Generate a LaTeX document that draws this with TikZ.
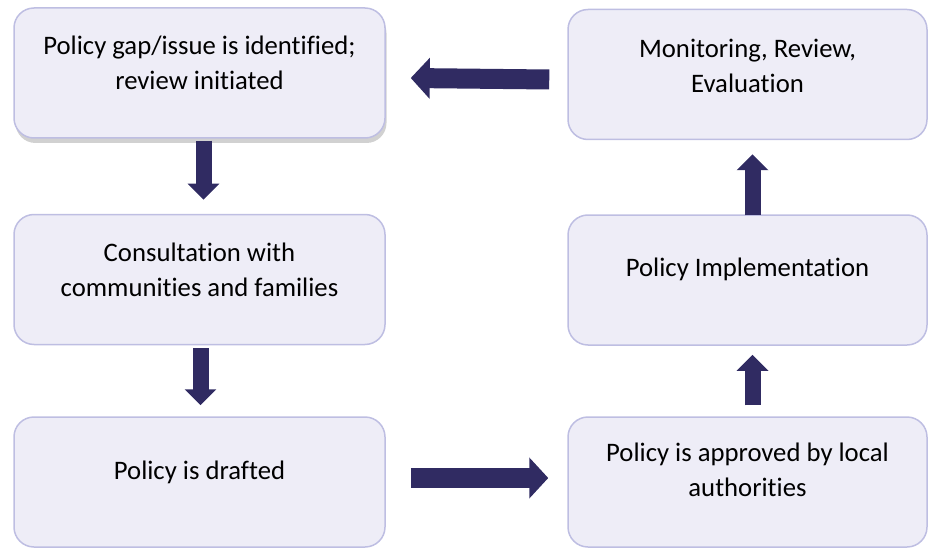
\documentclass[tikz,border=0pt]{standalone}
\usepackage{fontspec}
\setmainfont{Carlito}[Ligatures=NoCommon]
\usepackage{tikz}
\usetikzlibrary{arrows.meta,positioning,shadows}
\definecolor{boxfill}{HTML}{EEEDF7}
\definecolor{boxline}{HTML}{BEBEE2}
\definecolor{arrowblue}{HTML}{302B62}
\tikzset{
  stage/.style={draw=boxline,fill=boxfill,line width=1.5pt,rounded corners=20pt,
    minimum height=130pt,inner sep=0pt},
  leftstage/.style={stage,minimum width=371pt},
  rightstage/.style={stage,minimum width=359pt},
  caption/.style={align=center,inner sep=0pt,font=\fontsize{26.7}{35}\selectfont},
  vfat/.style={draw=arrowblue,line width=16pt,-{Triangle[width=31pt,length=16pt]}},
  hfat/.style={draw=arrowblue,line width=20pt,-{Triangle[width=40pt,length=19pt]}}
}

\begin{document}
\begin{tikzpicture}[x=1pt,y=-1pt]
  \useasboundingbox (0,0) rectangle (928,548);

  % boxes
  \node[leftstage,drop shadow={shadow xshift=1.5pt,shadow yshift=-5pt,fill=black,opacity=0.18}]
    (gap) at (199.5,73) {};
  \node[leftstage]  (consult) at (199.5,279.5) {};
  \node[leftstage]  (draft)   at (199.5,482) {};
  \node[rightstage] (monitor) at (747.5,74.5) {};
  \node[rightstage] (implement) at (747.5,280) {};
  \node[rightstage] (approve) at (747.5,482) {};

  % texts
  \node[caption] (gaptext) at ([yshift=10pt]gap.center)
    {Policy gap/issue is identified;\\review initiated};
  \node[caption] (consulttext) at ([yshift=10pt]consult.center)
    {Consultation with\\communities and families};
  \node[caption] (drafttext) at ([yshift=10pt]draft.center) {Policy is drafted};
  \node[caption] (monitortext) at ([yshift=9pt]monitor.center)
    {Monitoring, Review,\\Evaluation};
  \node[caption] (implementtext) at ([yshift=11pt]implement.center) {Policy Implementation};
  \node[caption] (approvetext) at ([yshift=12pt]approve.center)
    {Policy is approved by local\\authorities};

  % arrows
  \draw[vfat] ([xshift=4pt,yshift=-2pt]gap.south) -- ([xshift=4pt,yshift=14pt]consult.north);
  \draw[vfat] ([xshift=1pt,yshift=-3pt]consult.south) -- ([xshift=1pt,yshift=11pt]draft.north);
  \draw[hfat] ([xshift=25pt,yshift=4pt]draft.east) -- ([xshift=-19pt,yshift=4pt]approve.west);
  \draw[vfat] ([xshift=5pt,yshift=11pt]approve.north) -- ([xshift=5pt,yshift=-9pt]implement.south);
  \draw[vfat] ([xshift=5pt,yshift=-1pt]implement.north) -- ([xshift=5pt,yshift=-14pt]monitor.south);
  \draw[hfat] ([xshift=-18pt,yshift=-5pt]monitor.west) -- ([xshift=25pt,yshift=-5pt]gap.east);
\end{tikzpicture}
\end{document}
